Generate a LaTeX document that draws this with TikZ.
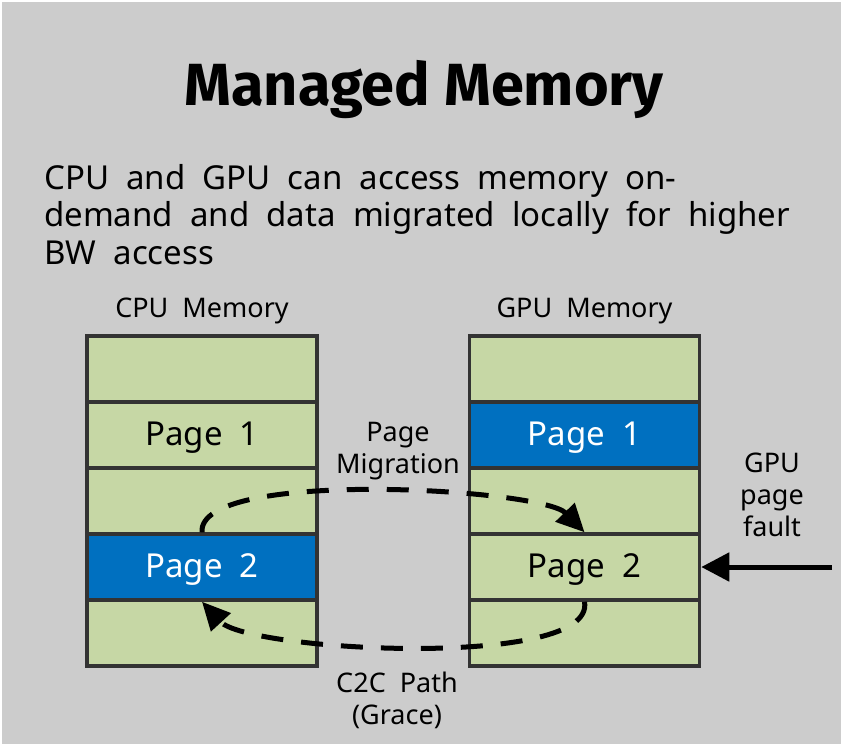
\documentclass[tikz,border=0pt]{standalone}
\usepackage{fontspec}
\setmainfont[WordSpace=2]{Noto Sans}
\newfontfamily\titlefamily{Fira Sans}
\usetikzlibrary{arrows.meta}

\definecolor{panelgray}{HTML}{CCCCCC}
\definecolor{cellgreen}{HTML}{C6D7A5}
\definecolor{cellblue}{HTML}{0070C0}
\definecolor{cellborder}{HTML}{333333}

\tikzset{
  cell/.style={draw=cellborder, fill=cellgreen, line width=3.5pt,
    minimum width=230pt, minimum height=66pt, inner sep=0pt},
  hotcell/.style={cell, fill=cellblue},
  celltext/.style={font=\fontsize{33}{38}\selectfont, anchor=base, inner sep=0pt},
  label/.style={font=\fontsize{27}{32}\selectfont, align=center, inner sep=0pt},
  migrate/.style={line width=5pt, dash pattern=on 22pt off 18pt,
    -{Triangle[length=28pt, width=26pt]}},
  faultarrow/.style={line width=5pt, -{Triangle[length=28pt, width=28pt]}},
}

\begin{document}
\begin{tikzpicture}[x=1pt, y=-1pt]
\useasboundingbox (0,0) rectangle (842,744);
\fill[panelgray] (2,2) rectangle (841,744);

% heading and description
\node[font=\titlefamily\bfseries\fontsize{59.5}{66}\selectfont, anchor=base, inner sep=0pt]
  (title) at (424,105) {Managed Memory};
\node[font=\fontsize{33}{37.5}\selectfont, align=left, anchor=north west, inner sep=0pt]
  (desc) at (44,164) {CPU and GPU can access memory on-\\demand and data migrated locally for higher\\BW access};

% memory columns
\foreach \r/\y in {1/369, 2/435, 3/501, 4/567, 5/633} {
  \node[cell] (c\r) at (202,\y) {};
  \node[cell] (g\r) at (584.5,\y) {};
}
\node[hotcell] at (c4) {};
\node[hotcell] at (g2) {};

\node[label, anchor=base] (cpulabel) at (202,317) {CPU Memory};
\node[label, anchor=base] (gpulabel) at (584.5,317) {GPU Memory};

\node[celltext] (cp1) at (202,445) {Page 1};
\node[celltext, text=white] (cp2) at (202,577) {Page 2};
\node[celltext, text=white] (gp1) at (584.5,445) {Page 1};
\node[celltext] (gp2) at (584.5,577) {Page 2};

% migration paths
\draw[migrate] (c4.north) .. controls +(-5,-64) and +(-43,-44) .. (g4.north);
\draw[migrate] (g4.south) .. controls +(12,68) and +(46,50) .. (c4.south);

\node[label, anchor=north] (miglabel) at (398,422) {Page\\Migration};
\node[label, anchor=north] (c2clabel) at (397,672) {C2C Path\\(Grace)};

% page fault
\node[label, anchor=north] (faultlabel) at (772,453) {GPU\\page\\fault};
\coordinate (faultsrc) at (832,567);
\draw[faultarrow] (faultsrc) -- (g4.east);
\end{tikzpicture}
\end{document}
